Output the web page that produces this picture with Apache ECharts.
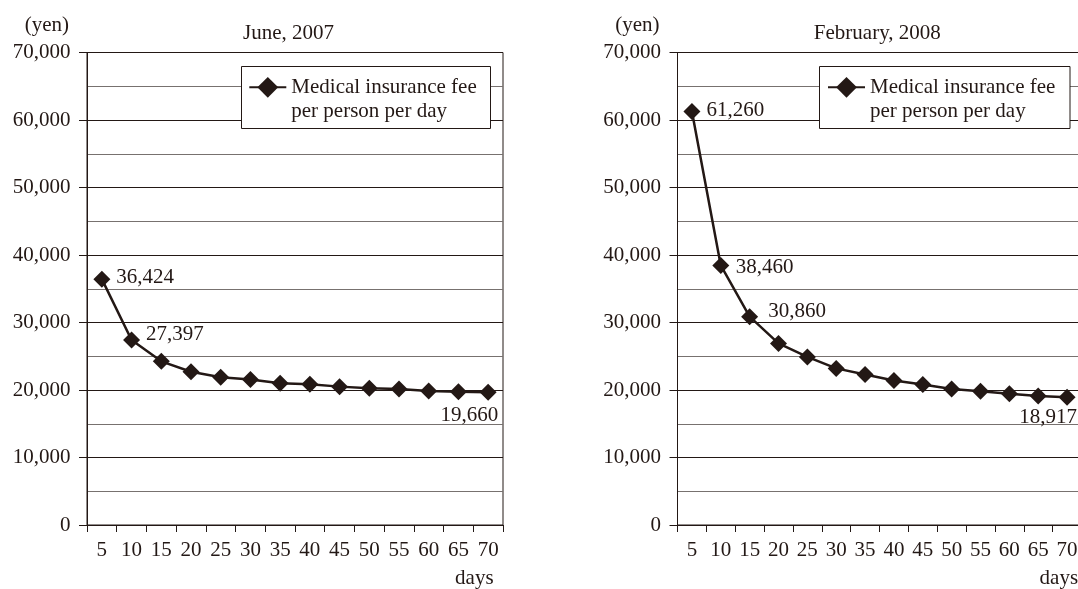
<!DOCTYPE html>
<html>
<head>
<meta charset="utf-8">
<script src="https://cdn.jsdelivr.net/npm/echarts@6/dist/echarts.min.js"></script>
<style>
html,body{margin:0;padding:0;background:#ffffff;}
#chart{width:1078px;height:589px;}
</style>
</head>
<body>
<div id="chart"></div>
<script>
// ---- data ----
const days = ['5','10','15','20','25','30','35','40','45','50','55','60','65','70'];
const june2007 = [36424, 27397, 24250, 22700, 21900, 21550, 21000, 20850, 20500, 20250, 20150, 19850, 19750, 19660];
const feb2008 = [61260, 38460, 30860, 26900, 24900, 23200, 22300, 21400, 20800, 20150, 19800, 19450, 19100, 18917];
const panelTitles = ['June, 2007', 'February, 2008'];
const seriesName = 'Medical insurance fee\nper person per day';
const yMin = 0, yMax = 70000, yStep = 10000;
const yUnit = '(yen)';
const xUnit = 'days';

// ---- styling ----
const INK = '#231815';
const MINOR = '#77716f';
const FONT = '"Liberation Serif","Times New Roman",serif';
const FS = 21;

// which points carry a value label, and how they are placed
const labelPlacement = [
  {0: {position: 'right', distance: 6, offset: [0, -2]},
   1: {position: 'right', distance: 6, offset: [0, -6]},
   13: {position: 'bottom', align: 'right', distance: 4, offset: [10, 0]}},
  {0: {position: 'right', distance: 6, offset: [0, -1]},
   1: {position: 'right', distance: 6.5, offset: [0, 2]},
   2: {position: 'right', distance: 10, offset: [0, -5]},
   13: {position: 'bottom', align: 'right', distance: 1, offset: [10, 0]}}
];

const panels = [
  {grid: {left: 87, top: 52.5, width: 416, height: 472.5}, titleX: 288.6, daysGap: -9.4,
   legend: {left: 248.3}, box: {x: 241.5, y: 66.5, width: 249, height: 62}},
  {grid: {left: 677.5, top: 52.5, width: 404, height: 472.5}, titleX: 877.3, daysGap: -3.4,
   legend: {left: 827}, box: {x: 819.5, y: 66.5, width: 250.5, height: 62}}
];
const seriesValues = [june2007, feb2008];

function fmt(v) { return Number(v).toLocaleString('en-US'); }

const option = {
  animation: false,
  backgroundColor: '#ffffff',
  textStyle: {fontFamily: FONT, color: INK},
  title: panels.map((p, i) => ({
    text: panelTitles[i], left: p.titleX, top: 33.5, textAlign: 'center', textVerticalAlign: 'middle',
    padding: 0, textStyle: {fontFamily: FONT, fontSize: FS, fontWeight: 'normal', color: INK}
  })),
  grid: panels.map(p => Object.assign({show: true, borderColor: INK, borderWidth: 1, containLabel: false, outerBoundsMode: 'none'}, p.grid)),
  legend: panels.map(p => ({
    data: [seriesName], left: p.legend.left, top: 87.3 - 36.6, padding: 0, orient: 'horizontal',
    itemWidth: 37, itemHeight: 26, selectedMode: false, z: 10,
    // leading blank line keeps the first text line level with the icon
    formatter: name => ' \n' + name,
    textStyle: {fontFamily: FONT, fontSize: FS, color: INK, lineHeight: 24.4}
  })),
  graphic: panels.map(p => ({
    type: 'rect', z: 5, silent: true,
    shape: {x: p.box.x, y: p.box.y, width: p.box.width, height: p.box.height},
    style: {fill: '#ffffff', stroke: INK, lineWidth: 1}
  })),
  xAxis: panels.map((p, i) => ({
    type: 'category', gridIndex: i, data: days, boundaryGap: true,
    axisLine: {show: true, lineStyle: {color: INK, width: 1}},
    axisTick: {show: true, length: 7, lineStyle: {color: INK, width: 1}},
    axisLabel: {interval: 0, fontFamily: FONT, fontSize: FS, color: INK, margin: 15},
    splitLine: {show: false},
    // blank lines above push the unit below the tick labels
    name: '\n\n\n\n' + xUnit, nameLocation: 'end', nameGap: p.daysGap, nameMoveOverlap: false,
    nameTextStyle: {fontFamily: FONT, fontSize: FS, color: INK, align: 'right', verticalAlign: 'middle', lineHeight: 26.5}
  })),
  yAxis: panels.map((p, i) => ({
    type: 'value', gridIndex: i, min: yMin, max: yMax, interval: yStep,
    axisLine: {show: true, lineStyle: {color: INK, width: 1}},
    axisTick: {show: true, length: 8, lineStyle: {color: INK, width: 1}},
    axisLabel: {fontFamily: FONT, fontSize: FS, color: INK, margin: 16.5, formatter: fmt, padding: [4, 0, 0, 0]},
    splitLine: {show: true, lineStyle: {color: INK, width: 1}},
    minorTick: {show: false, splitNumber: 2},
    minorSplitLine: {show: true, lineStyle: {color: MINOR, width: 1}},
    name: yUnit, nameLocation: 'end', nameGap: 27.5, nameMoveOverlap: false,
    nameTextStyle: {fontFamily: FONT, fontSize: FS, color: INK, align: 'right', verticalAlign: 'middle', padding: [0, 18, 0, 0]}
  })),
  series: panels.map((p, i) => ({
    type: 'line', name: seriesName, xAxisIndex: i, yAxisIndex: i,
    symbol: 'diamond', symbolSize: 17, showAllSymbol: true, z: 3,
    lineStyle: {color: INK, width: 2.5},
    itemStyle: {color: INK},
    label: {show: false},
    data: seriesValues[i].map((v, k) => {
      const lp = labelPlacement[i][k];
      if (!lp) return v;
      return {value: v, label: Object.assign({show: true, fontFamily: FONT, fontSize: FS, color: INK, formatter: d => fmt(d.value)}, lp)};
    })
  }))
};

const chart = echarts.init(document.getElementById('chart'), null, {renderer: 'canvas'});
chart.setOption(option);
</script>
</body>
</html>
